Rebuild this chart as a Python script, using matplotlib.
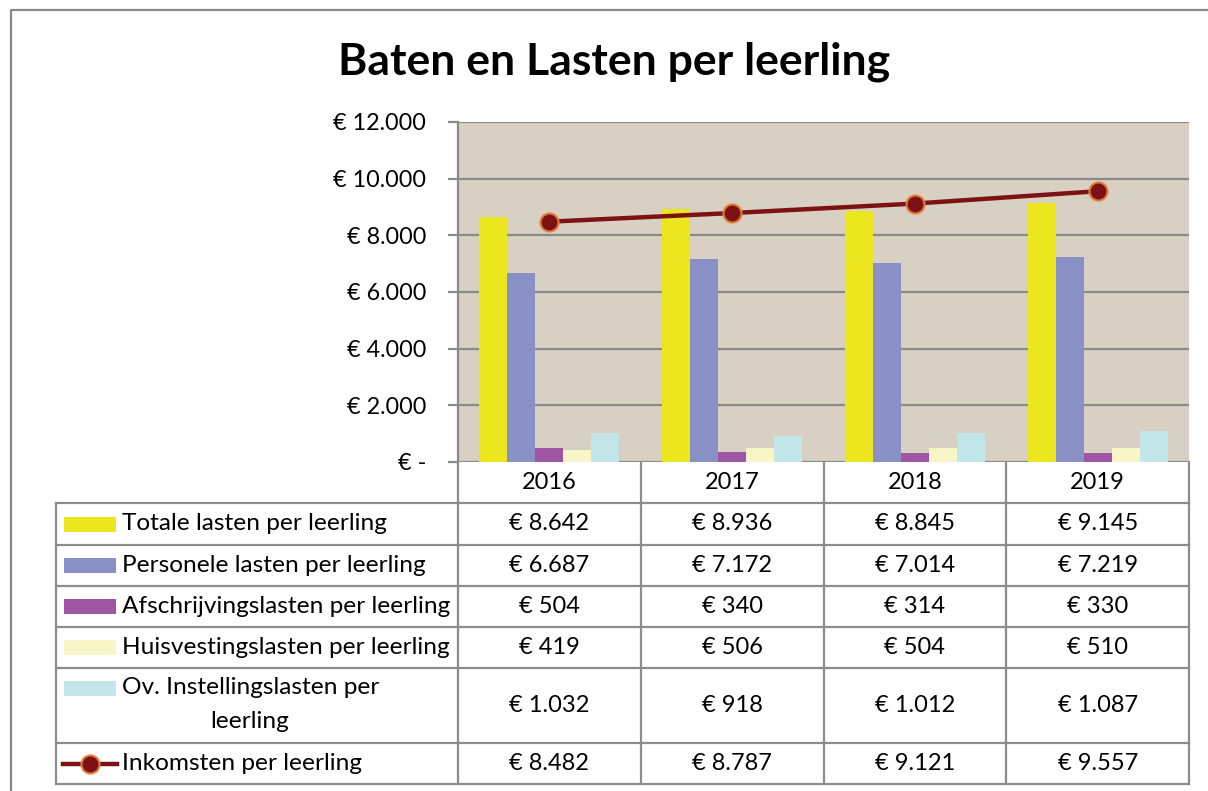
import matplotlib
matplotlib.use('Agg')
import matplotlib.pyplot as plt
from matplotlib.patches import Rectangle
from matplotlib.lines import Line2D

years = ['2016', '2017', '2018', '2019']
series_names = ['Totale lasten per leerling', 'Personele lasten per leerling',
                'Afschrijvingslasten per leerling', 'Huisvestingslasten per leerling',
                'Ov. Instellingslasten per\nleerling']
totale = [8642, 8936, 8845, 9145]
personele = [6687, 7172, 7014, 7219]
afschrijving = [504, 340, 314, 330]
huisvesting = [419, 506, 504, 510]
overige = [1032, 918, 1012, 1087]
inkomsten = [8482, 8787, 9121, 9557]
income_name = 'Inkomsten per leerling'
yticks = [0, 2000, 4000, 6000, 8000, 10000, 12000]

bar_colors = ['#EBE61E', '#8890C6', '#9E56A2', '#F8F5C8', '#C3E6EB']
line_color = '#7D1214'
marker_edge = '#E27D3A'
grid_gray = '#8A8A8A'
bg_color = '#D8D0C3'

plt.rcParams['font.family'] = ['Lato', 'DejaVu Sans']

W, H = 1208, 791
fig = plt.figure(figsize=(W / 100, H / 100), dpi=100)

def fx(x):
    return x / W

def fy(y):
    return 1 - y / H

# overlay axes in pixel coordinates for frame and table
ov = fig.add_axes([0, 0, 1, 1])
ov.set_xlim(0, W)
ov.set_ylim(H, 0)
ov.axis('off')

# outer frame
ov.plot([11, 11, W], [H, 10, 10], color=grid_gray, lw=1.6)

# title
ov.text(614, 62, 'Baten en Lasten per leerling', ha='center', va='center',
        fontsize=32, fontweight='bold')

# chart area
x0, x1, ytop, ybot = 458, 1189, 122, 462
ax = fig.add_axes([fx(x0), fy(ybot), fx(x1 - x0), (ybot - ytop) / H])
ax.set_facecolor(bg_color)
ax.set_xlim(-0.5, len(years) - 0.5)
ax.set_ylim(0, 12000)

series = [totale, personele, afschrijving, huisvesting, overige]
cat_w = (x1 - x0) / len(years)
bw = 28 / cat_w
xs = list(range(len(years)))
for i, vals in enumerate(series):
    off = (i - 2) * bw
    ax.bar([x + off for x in xs], vals, width=bw, color=bar_colors[i], zorder=3)

ax.plot(xs, inkomsten, color=line_color, lw=3.2, marker='o', markersize=13,
        markerfacecolor=line_color, markeredgecolor=marker_edge, markeredgewidth=1.5,
        zorder=4)

ax.set_yticks(yticks)
ax.set_yticklabels(['€ ' + f'{v:,}'.replace(',', '.') if v else '€ -' for v in yticks],
                   fontsize=16.8)
ax.yaxis.grid(True, color=grid_gray, lw=1.6, zorder=1)
ax.tick_params(axis='y', length=7, width=1.6, color=grid_gray, pad=16)
ax.set_xticks([])
for s in ['top', 'right', 'bottom']:
    ax.spines[s].set_visible(False)
ax.spines['left'].set_color(grid_gray)
ax.spines['left'].set_linewidth(1.6)

# data table
col_x = [x0 + i * cat_w for i in range(len(years) + 1)]
row_y = [462, 503, 545, 586, 627, 668, 743, 784]
lc = '#8C8C8C'
lw = 1.6
fs_val = 17
fs_leg = 17.6
# header
for i, y in enumerate(years):
    ov.text((col_x[i] + col_x[i + 1]) / 2, (row_y[0] + row_y[1]) / 2, y,
            ha='center', va='center', fontsize=fs_val)
for y in row_y[1:]:
    ov.plot([56, x1], [y, y], color=lc, lw=lw)
for x in col_x:
    ov.plot([x, x], [row_y[0], row_y[-1]], color=lc, lw=lw)
ov.plot([56, 56], [row_y[1], row_y[-1]], color=lc, lw=lw)

all_rows = series + [inkomsten]
names = series_names + [income_name]
for r, vals in enumerate(all_rows):
    yt, yb = row_y[r + 1], row_y[r + 2]
    yc = (yt + yb) / 2
    for i, v in enumerate(vals):
        ov.text((col_x[i] + col_x[i + 1]) / 2, yc, '€ ' + f'{v:,}'.replace(',', '.'),
                ha='center', va='center', fontsize=fs_val)
    if r < len(series):
        if '\n' in names[r]:
            first, second = names[r].split('\n')
            ov.add_patch(Rectangle((64, yt + 20 - 7.5), 52, 15, color=bar_colors[r], lw=0))
            ov.text(122, yt + 20, first, ha='left', va='center', fontsize=fs_leg)
            ov.text(250, yt + 54, second, ha='center', va='center', fontsize=fs_leg)
        else:
            ov.add_patch(Rectangle((64, yc - 7.5), 52, 15, color=bar_colors[r], lw=0))
            ov.text(122, yc, names[r], ha='left', va='center', fontsize=fs_leg)
    else:
        ov.add_line(Line2D([63, 117], [yc, yc], color=line_color, lw=3.2))
        ov.add_line(Line2D([90], [yc], marker='o', markersize=13, color=line_color,
                           markeredgecolor=marker_edge, markeredgewidth=1.5))
        ov.text(122, yc, names[r], ha='left', va='center', fontsize=fs_leg)

fig.savefig('out.png', dpi=100)
